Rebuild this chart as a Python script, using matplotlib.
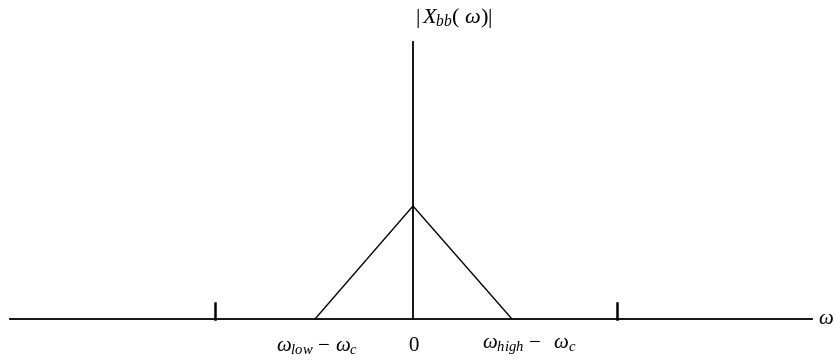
import matplotlib
matplotlib.use("Agg")
import matplotlib.pyplot as plt

plt.rcParams['mathtext.fontset'] = 'custom'
plt.rcParams['mathtext.rm'] = 'Liberation Serif'
plt.rcParams['mathtext.it'] = 'Liberation Serif:italic'
plt.rcParams['font.family'] = ['Liberation Serif', 'DejaVu Serif']

# baseband spectrum: triangle between the two shifted band edges
tri_x = [-0.98, 0.0, 0.99]
tri_y = [0.0, 1.0, 0.0]

axis_x = [-4.03, 3.99]
axis_top = 2.45
tick_pos = [-1.98, 2.04]
tick_h = 0.14

label_pos = [-0.96, 0.0, 1.16]
label_txt = [r'$\omega_{low}\,-\,\omega_c$', '0', r'$\omega_{high}\,-\ \ \omega_c$']

fig = plt.figure(figsize=(8.35, 3.62), dpi=100)
ax = fig.add_axes([0, 0, 1, 1])
ax.set_xlim(-4.13, 4.22)
ax.set_ylim(-43 / 113, 319 / 113)
ax.axis('off')

lw = 1.3
ax.plot(axis_x, [0, 0], color='black', lw=lw)
ax.plot([0, 0], [0, axis_top], color='black', lw=lw)
for t in tick_pos:
    ax.plot([t, t], [0, tick_h], color='black', lw=lw + 0.5)
ax.plot(tri_x, tri_y, color='black', lw=1.0)

for x, s in zip(label_pos, label_txt):
    ax.text(x, -0.24, s, ha='center', va='center', fontsize=15)

ax.text(4.13, 0.0, r'$\omega$', ha='center', va='center', fontsize=15)
ax.text(0.02, 2.66, r'$|\,X_{bb}(\ \omega)|$', ha='left', va='center', fontsize=16)

fig.savefig('out.png', dpi=100)
